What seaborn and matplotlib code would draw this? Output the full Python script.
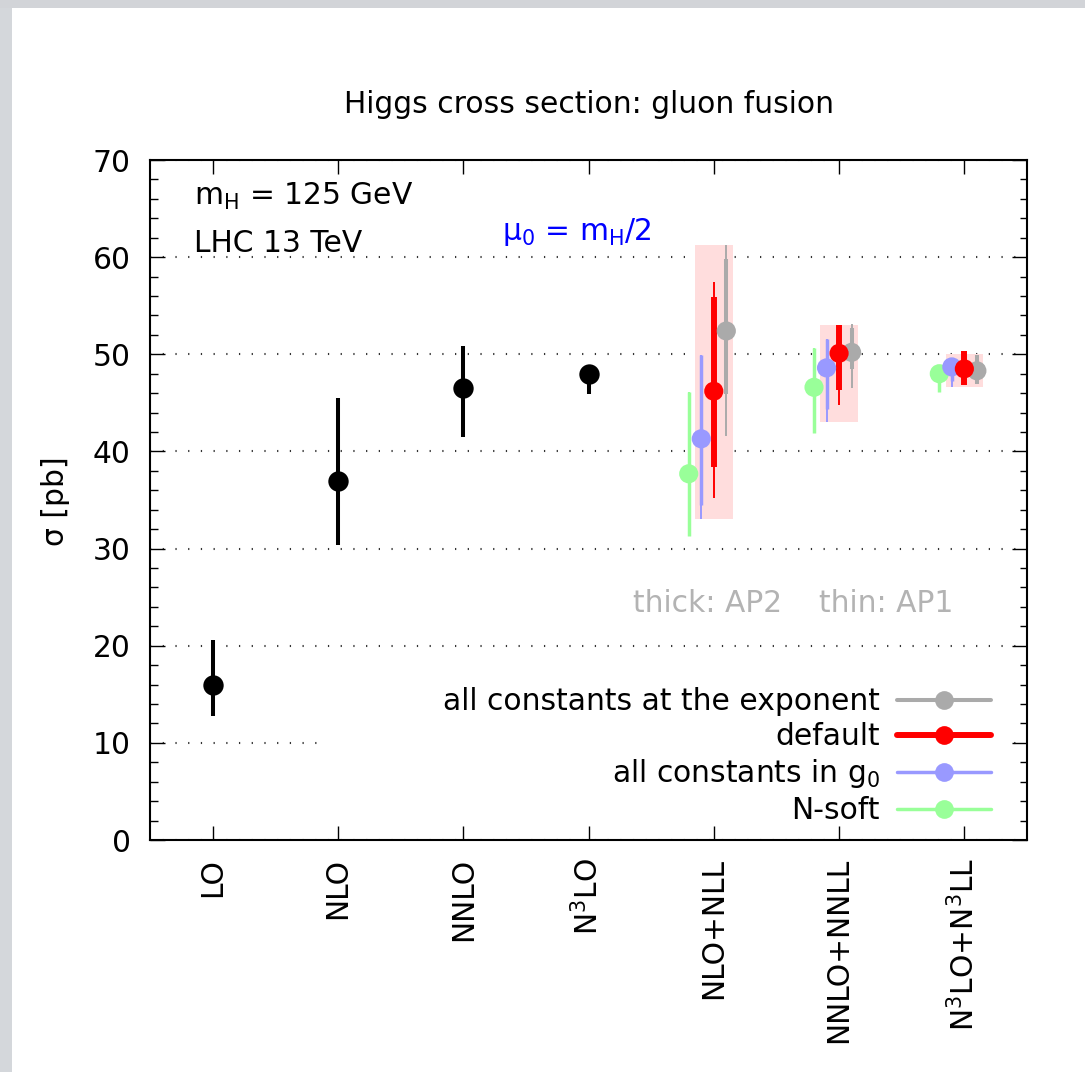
import numpy as np
import pandas as pd
import matplotlib
matplotlib.use("Agg")
import matplotlib.pyplot as plt
from matplotlib.lines import Line2D
from matplotlib.patches import Rectangle
from matplotlib.ticker import MultipleLocator, FixedLocator
import seaborn as sns

# ---------------------------------------------------------------- data
order_labels = ["LO", "NLO", "NNLO", "N$^3$LO",
                "NLO+NLL", "NNLO+NNLL", "N$^3$LO+N$^3$LL"]

# fixed-order results (scale uncertainty band)
fixed_central = [16.0, 37.0, 46.5, 48.0]
fixed_low = [12.8, 30.4, 41.5, 45.9]
fixed_high = [20.6, 45.5, 50.9, 48.6]

# resummed results; thick bars = AP2, thin bars = AP1
nsoft_central = [37.7, 46.6, 48.0]
nsoft_ap2_low = [31.3, 41.9, 46.1]
nsoft_ap2_high = [46.1, 50.6, 48.6]
nsoft_ap1_low = [31.3, 41.9, 46.1]
nsoft_ap1_high = [46.1, 50.6, 48.6]

g0_central = [41.3, 48.6, 48.7]
g0_ap2_low = [34.5, 44.4, 47.3]
g0_ap2_high = [49.9, 51.6, 49.2]
g0_ap1_low = [33.0, 43.0, 46.6]
g0_ap1_high = [49.9, 51.6, 49.2]

default_central = [46.2, 50.1, 48.5]
default_ap2_low = [38.4, 46.3, 46.8]
default_ap2_high = [55.9, 53.0, 50.3]
default_ap1_low = [35.2, 44.8, 46.8]
default_ap1_high = [57.4, 53.0, 50.3]

expo_central = [52.4, 50.2, 48.3]
expo_ap2_low = [45.9, 48.5, 46.9]
expo_ap2_high = [59.8, 52.7, 49.9]
expo_ap1_low = [41.6, 46.5, 46.9]
expo_ap1_high = [61.3, 53.1, 49.9]

# envelope of the resummed variants
band_low = [33.0, 43.0, 46.6]
band_high = [61.2, 53.0, 50.0]

series_labels = ["N-soft", "all constants in g$_0$", "all constants at the exponent", "default"]

# ---------------------------------------------------------------- style
FS = 21.4
colors = {"N-soft": "#99ff99",
          "all constants in g$_0$": "#9999ff",
          "all constants at the exponent": "#aaaaaa",
          "default": "#ff0000"}
offsets = {"N-soft": -0.2, "all constants in g$_0$": -0.1,
           "all constants at the exponent": 0.1, "default": 0.0}
thick_lw = {"N-soft": 2.5, "all constants in g$_0$": 2.5,
            "all constants at the exponent": 2.9, "default": 4.3}
thin_lw = 1.4

series_data = {
    "N-soft": (nsoft_central, nsoft_ap2_low, nsoft_ap2_high, nsoft_ap1_low, nsoft_ap1_high),
    "all constants in g$_0$": (g0_central, g0_ap2_low, g0_ap2_high, g0_ap1_low, g0_ap1_high),
    "all constants at the exponent": (expo_central, expo_ap2_low, expo_ap2_high, expo_ap1_low, expo_ap1_high),
    "default": (default_central, default_ap2_low, default_ap2_high, default_ap1_low, default_ap1_high),
}

sns.set_theme(style="ticks")
plt.rcParams["font.family"] = ["DejaVu Sans"]
plt.rcParams["mathtext.default"] = "regular"
plt.rcParams["font.size"] = FS
for key in ["text.color", "axes.labelcolor", "xtick.color", "ytick.color",
            "axes.edgecolor"]:
    plt.rcParams[key] = "black"

W, H = 1085, 1072
fig = plt.figure(figsize=(W / 100, H / 100), dpi=100)
fig.patch.set_facecolor("white")
ax = fig.add_axes([150 / W, 1 - 840 / H, 877 / W, 680 / H])
ax.set_facecolor("white")

# window-edge strips
fig.add_artist(Rectangle((0, 0), 12 / W, 1, transform=fig.transFigure,
                         color="#d4d7db", zorder=-5, lw=0))
fig.add_artist(Rectangle((0, 1 - 8 / H), 1, 8 / H, transform=fig.transFigure,
                         color="#d2d4d8", zorder=-5, lw=0))

fixed_x = np.arange(1, 5)
res_x = np.arange(5, 8)

# envelope boxes
ax.bar(res_x, np.subtract(band_high, band_low), bottom=band_low, width=0.30,
       color="#ffdddd", linewidth=0, zorder=1)

# fixed-order points
ax.vlines(fixed_x, fixed_low, fixed_high, color="black", lw=2.9, zorder=2)
df_fixed = pd.DataFrame({"x": fixed_x, "sigma": fixed_central})
sns.scatterplot(data=df_fixed, x="x", y="sigma", color="black", s=215,
                linewidth=0, ax=ax, zorder=4, legend=False)

# resummed variants
rows = []
for name in series_labels:
    central, ap2_lo, ap2_hi, ap1_lo, ap1_hi = series_data[name]
    xs = res_x + offsets[name]
    ax.vlines(xs, ap1_lo, ap1_hi, color=colors[name], lw=thin_lw, zorder=2)
    ax.vlines(xs, ap2_lo, ap2_hi, color=colors[name], lw=thick_lw[name], zorder=2.5)
    for xv, cv in zip(xs, central):
        rows.append({"x": xv, "sigma": cv, "variant": name})
df_res = pd.DataFrame(rows)
sns.scatterplot(data=df_res, x="x", y="sigma", hue="variant", palette=colors,
                s=190, linewidth=0, ax=ax, zorder=4, legend=False)

# axes
ax.set_xlim(0.5, 7.5)
ax.set_ylim(0, 70)
ax.xaxis.set_major_locator(FixedLocator(np.arange(1, 8)))
ax.set_xticklabels(order_labels, rotation=90, va="top", ha="center")
ax.yaxis.set_major_locator(MultipleLocator(10))
ax.yaxis.set_minor_locator(MultipleLocator(2))
ax.set_xlabel("")
ax.set_ylabel("")
ax.tick_params(axis="both", which="both", direction="in", top=True, right=True,
               colors="black", labelsize=FS)
ax.tick_params(axis="x", which="major", length=10, width=1.0, pad=13)
ax.tick_params(axis="y", which="major", length=10.5, width=1.0, pad=14)
ax.tick_params(axis="y", which="minor", length=5.4, width=1.0)
ax.tick_params(axis="x", which="minor", bottom=False, top=False)
for sp in ax.spines.values():
    sp.set_linewidth(1.5)
    sp.set_color("black")
    sp.set_visible(True)

ax.set_axisbelow(True)
ax.yaxis.grid(True, which="major", color="#333333", lw=1.5,
              linestyle=(0, (0.6, 5.5)))
ax.xaxis.grid(False)

# key background
ax.add_patch(Rectangle((0.196, 0.05), 0.779, 0.17, transform=ax.transAxes,
                       color="white", lw=0, zorder=0.8))

key_order = ["all constants at the exponent", "default",
             "all constants in g$_0$", "N-soft"]
handles = [Line2D([], [], color=colors[n], lw=thick_lw[n], marker="o",
                  markersize=13.5, markeredgewidth=0)
           for n in key_order]
leg = ax.legend(handles, key_order, loc="lower right", bbox_to_anchor=(0.959, 0.022),
                frameon=False, markerfirst=False, handlelength=3.15, handletextpad=0.6,
                labelspacing=0.2, borderpad=0, borderaxespad=0, fontsize=FS)
for t in leg.get_texts():
    t.set_color("black")

# annotations
ax.text(0.050, 0.934, "m$_H$ = 125 GeV", transform=ax.transAxes,
        va="baseline", ha="left", fontsize=FS, color="black")
ax.text(0.050, 0.865, "LHC 13 TeV", transform=ax.transAxes,
        va="baseline", ha="left", fontsize=FS, color="black")
ax.text(0.401, 0.883, r"$\mu_0$ = m$_H$/2", transform=ax.transAxes,
        va="baseline", ha="left", fontsize=FS, color="#0000ff")
ax.text(0.5504, 0.335, "thick: AP2", transform=ax.transAxes,
        va="baseline", ha="left", fontsize=FS, color="#b3b3b3")
ax.text(0.7628, 0.335, "thin: AP1", transform=ax.transAxes,
        va="baseline", ha="left", fontsize=FS, color="#b3b3b3")

fig.text(588.5 / W, 1 - 113 / H, "Higgs cross section: gluon fusion",
         ha="center", va="baseline", fontsize=FS, color="black")
fig.text(55 / W, 1 - 501 / H, "σ [pb]", rotation=90, ha="center",
         va="center", fontsize=FS, color="black")

fig.savefig("out.png", dpi=100, facecolor="white")
